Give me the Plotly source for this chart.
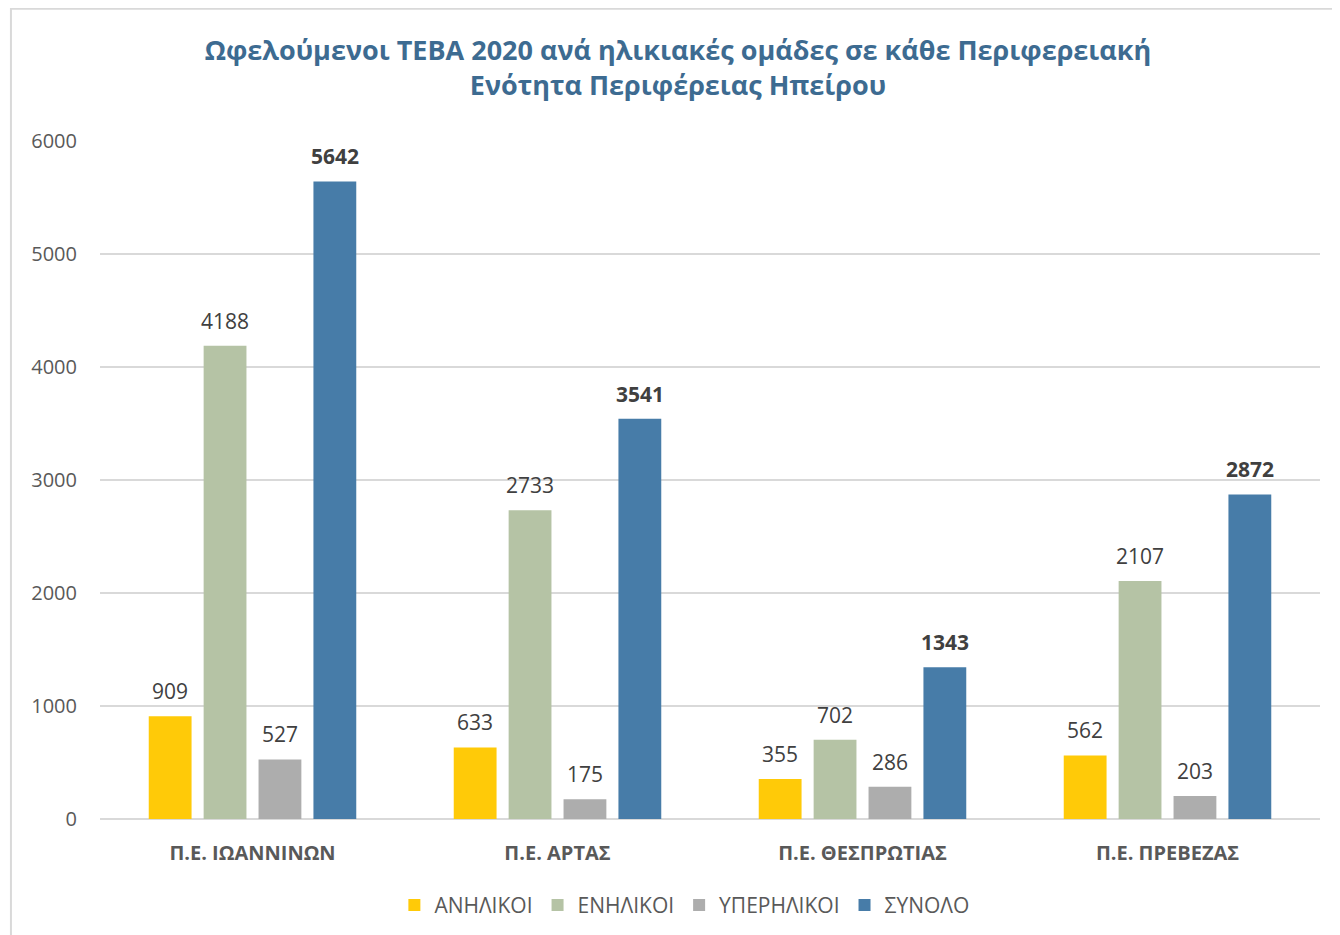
import plotly.graph_objects as go

# data
regions = ["Π.Ε. ΙΩΑΝΝΙΝΩΝ", "Π.Ε. ΑΡΤΑΣ", "Π.Ε. ΘΕΣΠΡΩΤΙΑΣ", "Π.Ε. ΠΡΕΒΕΖΑΣ"]
minors = [909, 633, 355, 562]
adults = [4188, 2733, 702, 2107]
elderly = [527, 175, 286, 203]
totals = [5642, 3541, 1343, 2872]

series = [
    ("ΑΝΗΛΙΚΟΙ", minors, "#FFCA08", False),
    ("ΕΝΗΛΙΚΟΙ", adults, "#B5C3A5", False),
    ("ΥΠΕΡΗΛΙΚΟΙ", elderly, "#ADADAD", False),
    ("ΣΥΝΟΛΟ", totals, "#477CA8", True),
]

FONT = "Open Sans"
TEXT_GREY = "#595959"
BARGAP = 0.28

fig = go.Figure()
for name, vals, color, bold in series:
    fig.add_trace(
        go.Bar(
            name=name,
            x=regions,
            y=vals,
            marker=dict(color=color, line=dict(width=0)),
        )
    )

# value labels sit a bit higher above the bars than plotly's own outside text,
# so they go in as annotations at each bar's slot centre
n = len(series)
slot = (1 - BARGAP) / n
for k, (name, vals, color, bold) in enumerate(series):
    for i, v in enumerate(vals):
        fig.add_annotation(
            x=i + (k - (n - 1) / 2) * slot,
            y=v,
            xref="x",
            yref="y",
            text=f"<b>{v}</b>" if bold else str(v),
            showarrow=False,
            yanchor="bottom",
            yshift=9,
            font=dict(family=FONT, size=21, color="#404040"),
        )

# the page body adds 8px, margins are set so the plot area lands where the reference has it
fig.update_layout(
    width=1340,
    height=935,
    paper_bgcolor="white",
    plot_bgcolor="white",
    font=dict(family=FONT, color=TEXT_GREY),
    title=dict(
        text="Ωφελούμενοι ΤΕΒΑ 2020 ανά ηλικιακές ομάδες σε κάθε Περιφερειακή<br>Ενότητα Περιφέρειας Ηπείρου",
        x=0.5,
        xanchor="center",
        y=0.944,
        yanchor="top",
        font=dict(family=FONT, size=27, color="#3D6B91", weight="bold"),
    ),
    margin=dict(l=92, r=28, t=133, b=124),
    barmode="group",
    bargap=BARGAP,
    bargroupgap=0.22,
    legend=dict(
        orientation="h",
        x=0.479,
        xanchor="center",
        y=-0.097,
        yanchor="top",
        font=dict(family=FONT, size=21, color=TEXT_GREY),
        itemwidth=30,
        traceorder="normal",
    ),
    showlegend=True,
)

fig.update_yaxes(
    range=[0, 6000],
    dtick=1000,
    showgrid=True,
    gridcolor="#D9D9D9",
    gridwidth=2,
    zeroline=True,
    zerolinecolor="#D9D9D9",
    zerolinewidth=2,
    showline=False,
    ticks="",
    ticklabelstandoff=22,
    tickfont=dict(family=FONT, size=20, color=TEXT_GREY),
)
fig.update_xaxes(
    showline=False,
    ticks="",
    ticklabelstandoff=20,
    tickfont=dict(family=FONT, size=20, color=TEXT_GREY, weight="bold"),
)

# thin chart-area frame like the spreadsheet export
fig.add_shape(
    type="rect",
    xref="paper",
    yref="paper",
    x0=-0.073,
    x1=1.03,
    y0=-0.19,
    y1=1.195,
    line=dict(color="#D9D9D9", width=2),
    fillcolor="rgba(0,0,0,0)",
    layer="below",
)

fig.write_html("out.html")
